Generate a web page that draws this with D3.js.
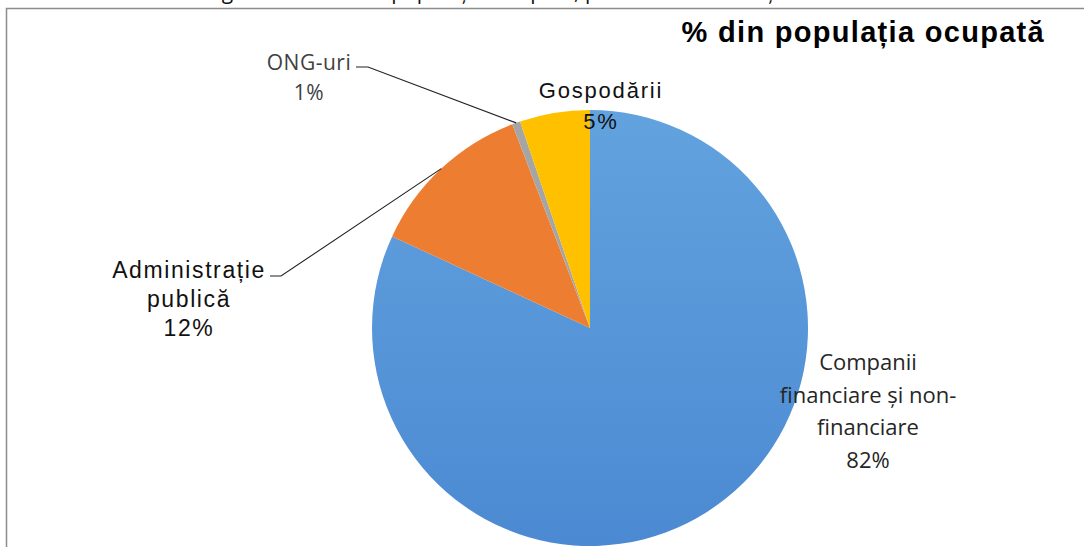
<!DOCTYPE html>
<html>
<head>
<meta charset="utf-8">
<script src="https://cdn.jsdelivr.net/npm/d3@7"></script>
<style>
  body { margin: 0; background: #fff; }
  svg { display: block; }
</style>
</head>
<body>
<div id="chart-area"></div>
<script>
// Data
const sectors = ["Companii financiare și non-financiare", "Administrație publică", "ONG-uri", "Gospodării"];
const shares = [81.9, 12.3, 0.6, 5.2];
const shareLabels = ["82%", "12%", "1%", "5%"];
const colors = ["#5b9bd5", "#ed7d31", "#a5a5a5", "#ffc000"];

const width = 1084, height = 547;
const cx = 590, cy = 328, radius = 218;

const svg = d3.select("#chart-area")
  .append("svg")
    .attr("width", width)
    .attr("height", height);

// blue slice gets a faint top-to-bottom shading like the scan
const defs = svg.append("defs");
const grad = defs.append("linearGradient")
  .attr("id", "blueGrad")
  .attr("x1", 0).attr("y1", 0).attr("x2", 0).attr("y2", 1);
grad.append("stop").attr("offset", "0%").attr("stop-color", "#62a2de");
grad.append("stop").attr("offset", "100%").attr("stop-color", "#4b8ad2");

// caption above the frame, cut by the page edge as in the scan
svg.append("text")
  .attr("x", 590)
  .attr("y", -1)
  .attr("text-anchor", "middle")
  .attr("font-family", "Open Sans, sans-serif")
  .attr("font-size", "21px")
  .attr("fill", "#111")
  .text("Figura 2. Structura populației ocupate, pe sectoare instituționale ale economiei");

// frame
svg.append("path")
  .attr("d", "M6.5,547 V8.5 H1084")
  .attr("fill", "none")
  .attr("stroke", "#8c8c8c")
  .attr("stroke-width", 1.5);

// Title
svg.append("text")
  .attr("x", 1045)
  .attr("y", 42)
  .attr("text-anchor", "end")
  .attr("font-family", "Liberation Sans, Arial, sans-serif")
  .attr("font-weight", "bold")
  .attr("font-size", "29px")
  .attr("letter-spacing", "1.3px")
  .attr("fill", "#000")
  .text("% din populația ocupată");

// Pie
const pie = d3.pie().sort(null).value(d => d)
  .startAngle(0).endAngle(2 * Math.PI);
const arcs = pie(shares);

const arc = d3.arc().innerRadius(0).outerRadius(radius);
const edgeArc = d3.arc().innerRadius(radius).outerRadius(radius);

const chart = svg.append("g")
  .attr("transform", `translate(${cx},${cy})`);

chart.selectAll("path.slice")
  .data(arcs)
  .enter()
  .append("path")
    .attr("class", "slice")
    .attr("d", arc)
    .attr("fill", (d, i) => i === 0 ? "url(#blueGrad)" : colors[i]);

// Labels (page coordinates)
const labels = [
  { x: 868, y: 370, lines: [sectors[0].slice(0, 8), "financiare și non-", "financiare", shareLabels[0]],
    font: "Open Sans, sans-serif", size: 22, fill: "#262626", lh: 32.5, ls: 0 },
  { x: 189, y: 278, lines: ["Administrație", "publică", shareLabels[1]],
    font: "Liberation Sans, Arial, sans-serif", size: 23, fill: "#111", lh: 29, ls: 1.6 },
  { x: 309, y: 70, lines: [sectors[2], shareLabels[2]],
    font: "Open Sans, sans-serif", size: 21, fill: "#404040", lh: 30, ls: 0.5 },
  { x: 601, y: 98, lines: [sectors[3], shareLabels[3]],
    font: "Liberation Sans, Arial, sans-serif", size: 22, fill: "#111", lh: 31, ls: 1.8 }
];

labels.forEach(l => {
  const t = svg.append("text")
    .attr("text-anchor", "middle")
    .attr("font-family", l.font)
    .attr("font-size", l.size + "px")
    .attr("letter-spacing", l.ls + "px")
    .attr("fill", l.fill);
  l.lines.forEach((line, k) => {
    t.append("tspan")
      .attr("x", l.x)
      .attr("y", l.y + k * l.lh)
      .text(line);
  });
});

// Leader lines for the two small-label slices
const leaders = [
  { i: 1, from: [270, 276], elbow: [281, 276] },
  { i: 2, from: [356, 67], elbow: [368, 67] }
];
leaders.forEach(ld => {
  const c = edgeArc.centroid(arcs[ld.i]);
  const end = [cx + c[0], cy + c[1]];
  svg.append("path")
    .attr("d", d3.line()([ld.from, ld.elbow, end]))
    .attr("fill", "none")
    .attr("stroke", "#222")
    .attr("stroke-width", 1.1);
});
</script>
</body>
</html>
